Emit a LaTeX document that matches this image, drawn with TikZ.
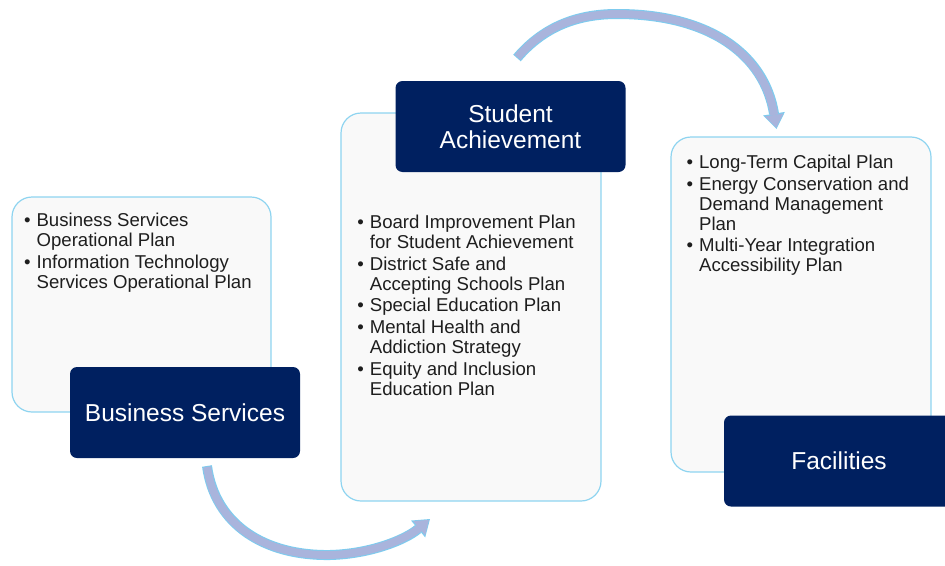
\documentclass[tikz,border=0pt]{standalone}
\usepackage{fontspec}
\setmainfont{Liberation Sans}
\usetikzlibrary{arrows.meta,calc}

\definecolor{navy}{HTML}{002060}
\definecolor{panelfill}{HTML}{F9F9F9}
\definecolor{panelrim}{HTML}{8ED4F0}
\definecolor{flowfill}{HTML}{A9B4DC}
\definecolor{flowrim}{HTML}{7FCBEE}
\definecolor{ink}{HTML}{1E1E1E}

% one bulleted entry; later lines hang under the first word
\newcommand\planitem[1]{\makebox[12.6pt][l]{\textbullet}\parbox[t]{226pt}{\raggedright #1}}

\tikzset{
  panel/.style={draw=panelrim, line width=1.2pt, fill=panelfill,
    rounded corners=20pt, anchor=north west, inner sep=0pt, outer sep=0pt},
  headbox/.style={fill=navy, text=white, rounded corners=7pt,
    minimum width=230pt, minimum height=91pt, inner sep=0pt, outer sep=0pt,
    align=center, font=\fontsize{24.5}{26}\selectfont},
  planentry/.style={anchor=base west, inner sep=0pt, outer sep=0pt, text=ink,
    font=\fontsize{18.6}{20}\selectfont},
  flowrimline/.style={draw=flowrim, line width=10pt,
    -{Triangle[width=22pt,length=15.5pt,line width=0pt]}},
  flowbodyline/.style={draw=flowfill, line width=7.8pt, shorten >=1.4pt, shorten <=1pt,
    -{Triangle[width=18.5pt,length=12.8pt,line width=0pt]}},
}

\begin{document}
\begin{tikzpicture}[x=1pt, y=-1pt]
  \path[use as bounding box] (0,0) rectangle (945,565);
  \clip (0,0) rectangle (945,565);

  % light panels holding the plan lists
  \node[panel, minimum width=259pt, minimum height=215pt] (bsPanel) at (12,197) {};
  \node[panel, minimum width=260pt, minimum height=388pt] (saPanel) at (341,113) {};
  \node[panel, minimum width=260pt, minimum height=335pt] (faPanel) at (671,137) {};

  % plan lists
  \node[planentry] (bs1) at (24,226) {\planitem{Business Services\\Operational Plan}};
  \node[planentry] (bs2) at (24,268) {\planitem{Information Technology\\Services Operational Plan}};

  \node[planentry] (sa1) at (357.3,228) {\planitem{Board Improvement Plan\\for Student Achievement}};
  \node[planentry] (sa2) at (357.3,270) {\planitem{District Safe and\\Accepting Schools Plan}};
  \node[planentry] (sa3) at (357.3,311.5) {\planitem{Special Education Plan}};
  \node[planentry] (sa4) at (357.3,333.3) {\planitem{Mental Health and\\Addiction Strategy}};
  \node[planentry] (sa5) at (357.3,375) {\planitem{Equity and Inclusion\\Education Plan}};

  \node[planentry] (fa1) at (686.5,168) {\planitem{Long-Term Capital Plan}};
  \node[planentry] (fa2) at (686.5,190.5) {\planitem{Energy Conservation and\\Demand Management\\Plan}};
  \node[planentry] (fa3) at (686.5,251) {\planitem{Multi-Year Integration\\Accessibility Plan}};

  % dark title boxes
  \node[headbox] (bsHead) at (185,412.5) {Business Services};
  \node[headbox] (saHead) at (510.5,126.5) {Student\\Achievement};
  \node[headbox] (faHead) at (839,461) {Facilities};

  % curved flow arrows between the areas
  \coordinate (dip) at (330,555);
  \coordinate (crest) at (617,14);
  \foreach \layer in {flowrimline, flowbodyline}{
    \draw[\layer] ([shift={(22,8)}]bsHead.south)
      .. controls +(8,59) and +(-65,1) .. (dip)
      .. controls +(40,-1) and +(-25,21) .. ([shift={(89,18)}]saPanel.south west);
    \draw[\layer] ([shift={(6.5,-23)}]saHead.north)
      .. controls +(28,-33) and +(-37,0) .. (crest)
      .. controls +(93,0) and +(-12,-74) .. ([shift={(-24.5,-8)}]faPanel.north);
  }
\end{tikzpicture}
\end{document}
